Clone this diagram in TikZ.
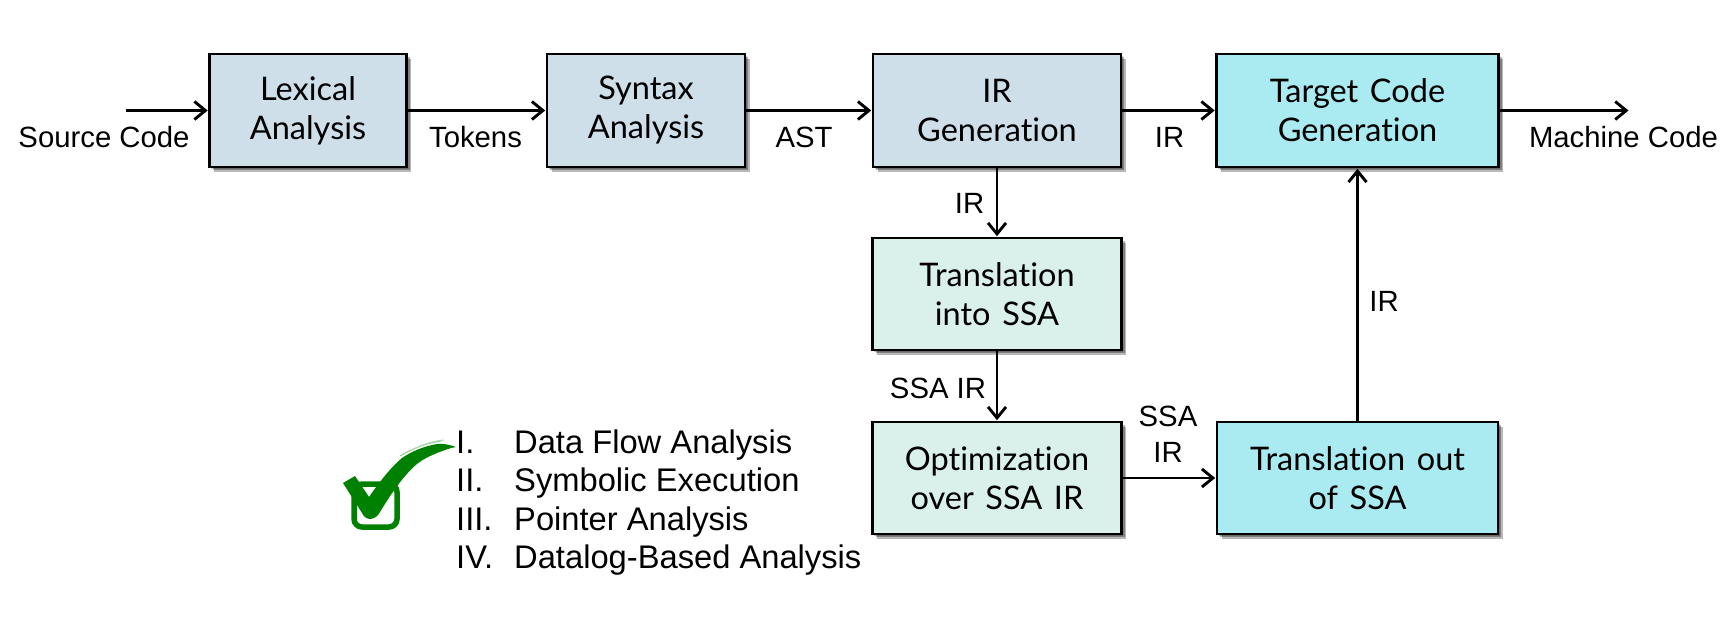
\documentclass[tikz,border=0pt]{standalone}
\usepackage{fontspec}
\setmainfont{Liberation Sans}
\newfontfamily\boxfont[Ligatures=NoCommon,WordSpace=1.4]{Lato}
\usetikzlibrary{arrows.meta}
\definecolor{cblue}{HTML}{CEDFEA}
\definecolor{ccyan}{HTML}{A9EBF0}
\definecolor{cmint}{HTML}{DAF0EB}
\definecolor{cgreen}{HTML}{008000}
\tikzset{
  x=1pt,y=-1pt,
  softshadow/.style={
    preaction={fill=black,fill opacity=.18,draw=none,transform canvas={xshift=1.5pt,yshift=-1.5pt}},
    preaction={fill=black,fill opacity=.3,draw=none,transform canvas={xshift=3pt,yshift=-3pt}},
    preaction={fill=black,fill opacity=.28,draw=none,transform canvas={xshift=4.5pt,yshift=-4.5pt}}},
  procbox/.style={draw=black,line width=2.6pt,softshadow,inner sep=0pt,align=center,
    font=\boxfont\fontsize{32.5}{39}\selectfont,execute at begin node={\rule{0pt}{31pt}}},
  bluebox/.style={procbox,fill=cblue},
  cyanbox/.style={procbox,fill=ccyan},
  mintbox/.style={procbox,fill=cmint},
  flow/.style={line width=2.9pt,-{Straight Barb[length=11pt,width=18pt,line width=2.9pt]},shorten >=0.5pt},
  lab/.style={inner sep=0pt,anchor=base,font=\fontsize{29.3}{36}\selectfont},
  item/.style={inner sep=0pt,anchor=base west,font=\fontsize{32.7}{36}\selectfont},
}
\begin{document}
\begin{tikzpicture}
\useasboundingbox (0,0) rectangle (1727,629);
\node[bluebox,minimum width=197,minimum height=113] (lex) at (308,110.5) {Lexical\\Analysis};
\node[bluebox,minimum width=198,minimum height=113] (syn) at (646,110.5) {Syntax\\Analysis};
\node[bluebox,minimum width=248,minimum height=113] (gen) at (997,110.5) {IR\\Generation};
\node[cyanbox,minimum width=282,minimum height=113] (tgt) at (1357.5,110.5) {Target Code\\Generation};
\node[mintbox,minimum width=249,minimum height=112] (into) at (997,294) {Translation\\into SSA};
\node[mintbox,minimum width=249,minimum height=112] (opt) at (997,478) {Optimization\\over SSA IR};
\node[cyanbox,minimum width=281,minimum height=112] (out) at (1357.5,478) {Translation out\\of SSA};
\coordinate (src) at (126,110.5);
\coordinate (mach) at (1629,110.5);
\draw[flow] (src) -- (lex);
\draw[flow] (lex) -- (syn);
\draw[flow] (syn) -- (gen);
\draw[flow] (gen) -- (tgt);
\draw[flow] (tgt) -- (mach);
\draw[flow] (gen) -- (into);
\draw[flow] (into) -- (opt);
\draw[flow] (opt) -- (out);
\draw[flow] (out) -- (tgt);
\node[lab] (lsrc) at (104,147) {Source Code};
\node[lab] (ltok) at (475.5,147) {Tokens};
\node[lab] (last) at (804,147) {AST};
\node[lab] (lir1) at (1169.5,147) {IR};
\node[lab] (lmach) at (1623.5,147) {Machine Code};
\node[lab] (lir2) at (969.5,213) {IR};
\node[lab] (lssa) at (938,398) {SSA IR};
\node[lab] (lssa2) at (1168,426) {SSA};
\node[lab] (lir3) at (1168,462) {IR};
\node[lab] (lir4) at (1384,311) {IR};
% check mark
\draw[cgreen,line width=5.5pt,rounded corners=8pt] (354,484) rectangle (397,527);
\fill[cgreen] (343,483) -- (355,476) -- (369,497)
  .. controls (378,484) and (390,468) .. (402,458)
  .. controls (412,451) and (425,446) .. (437,444)
  .. controls (443,443) and (450,445) .. (456,447)
  .. controls (449,448) and (443,451) .. (437,453)
  .. controls (430,456) and (423,459) .. (417,464)
  .. controls (405,474) and (392,492) .. (380,512)
  .. controls (376,520) and (366,522) .. (362,513) -- cycle;
\draw[cgreen!45,line width=1pt] (400,456) .. controls (415,447) and (428,443) .. (441,441);
\draw[cgreen!30,line width=1pt] (412,450) .. controls (422,445) and (432,441) .. (444,440);
\node[item] (n1) at (456,453) {I.};
\node[item] (n2) at (456,491) {II.};
\node[item] (n3) at (456,530) {III.};
\node[item] (n4) at (456,568) {IV.};
\node[item] (t1) at (514,453) {Data Flow Analysis};
\node[item] (t2) at (514,491) {Symbolic Execution};
\node[item] (t3) at (514,530) {Pointer Analysis};
\node[item] (t4) at (514,568) {Datalog-Based Analysis};
\end{tikzpicture}
\end{document}
